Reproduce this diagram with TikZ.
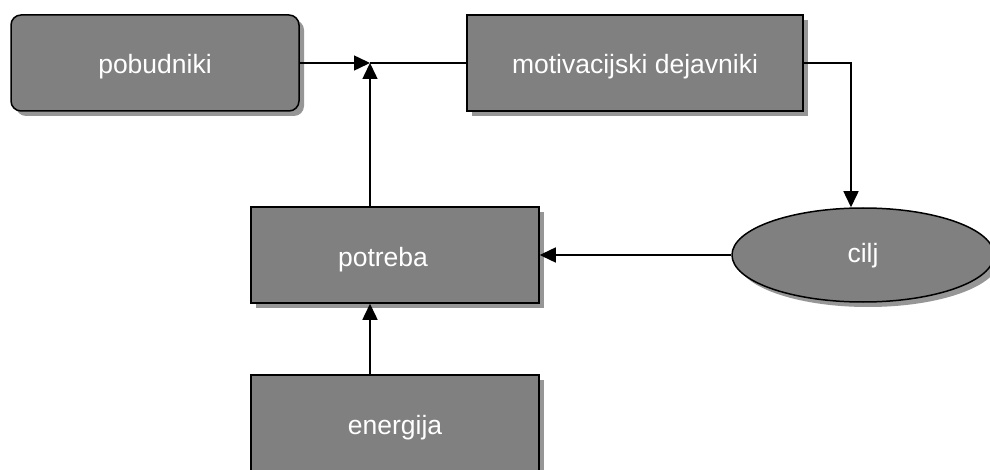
\documentclass[tikz,border=0pt]{standalone}
\usepackage{fontspec}
\setmainfont{Liberation Sans}
\usetikzlibrary{arrows.meta,shapes.geometric,shadows,calc}
\definecolor{boxfill}{RGB}{128,128,128}
\definecolor{boxshade}{RGB}{150,150,150}
\tikzset{
  base/.style={draw=black, line width=1.5pt, fill=boxfill, text=white,
    font=\fontsize{26.5}{30}\selectfont, inner sep=0pt,
    drop shadow={shadow xshift=5pt, shadow yshift=-5pt, fill=boxshade, opacity=1},
    text height=22pt, text depth=0pt},
  block/.style={base, rectangle, minimum width=288pt, minimum height=96pt},
  rblock/.style={block, rounded corners=10pt},
  goal/.style={base, ellipse, minimum width=262pt, minimum height=94pt, text height=14pt},
  link/.style={line width=1.5pt, draw=black},
  arr/.style={link, -{Triangle[length=16pt,width=15pt]}}
}
\begin{document}
\begin{tikzpicture}[x=1pt, y=-1pt]
  \clip (0,0) rectangle (990,470);
  \fill[white] (0,0) rectangle (990,470);

  \node[rblock] (pob) at (155,63) {pobudniki};
  \node[block, minimum width=336pt] (mot) at (635,63) {motivacijski dejavniki};
  \node[block]  (pot) at (395,255) {potreba\hspace*{24pt}};
  \node[block]  (ene) at (395,423) {energija};
  \node[goal]   (cilj) at (863,255) {cilj};

  \coordinate (J) at (370,63);

  \draw[arr]  (pob.east) -- (J);
  \draw[arr]  (J |- pot.north) -- (J);
  \draw[link] (J) -- (mot.west);
  \draw[arr]  (mot.east) -| ($(cilj.north)+(-12,0)$);
  \draw[arr]  (cilj.west) -- (pot.east);
  \draw[arr]  (J |- ene.north) -- (J |- pot.south);
\end{tikzpicture}
\end{document}
